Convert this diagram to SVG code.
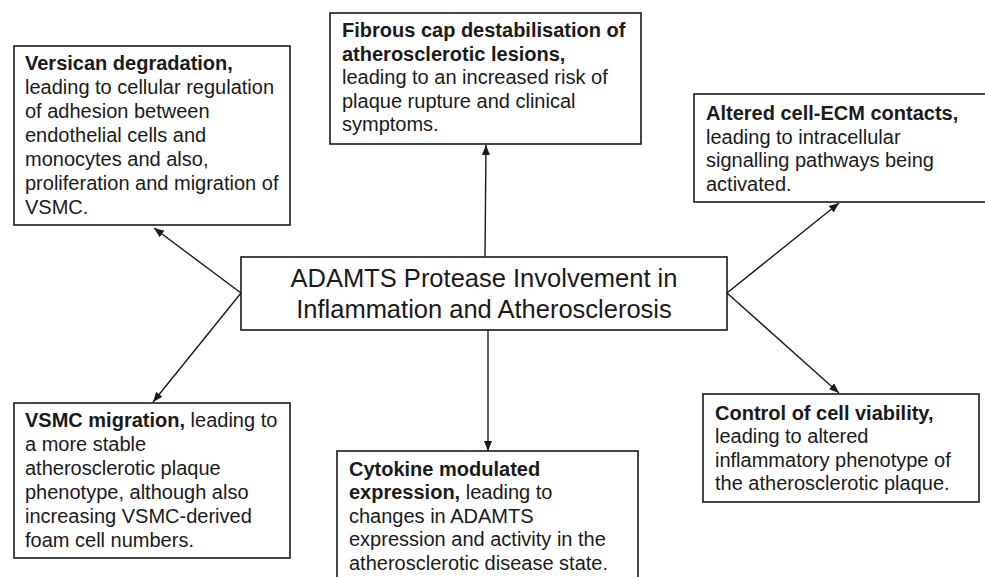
<svg xmlns="http://www.w3.org/2000/svg" width="985" height="577" viewBox="0 0 985 577">
<defs>
<style>
.box{fill:#fff;stroke:#1a1a1a;stroke-width:1.6}
.t{font-family:"Liberation Sans",Arial,sans-serif;font-size:20px;fill:#1a1a1a}
.b{font-weight:bold}
.c{font-family:"Liberation Sans",Arial,sans-serif;font-size:25.5px;fill:#1a1a1a;text-anchor:middle}
.ln{stroke:#1a1a1a;stroke-width:1.4;fill:none;marker-end:url(#ah)}
</style>
<marker id="ah" markerUnits="userSpaceOnUse" markerWidth="11" markerHeight="9" refX="10" refY="4" orient="auto">
<path d="M0,0 L10,4 L0,8 z" fill="#1a1a1a"/>
</marker>
</defs>
<rect width="985" height="577" fill="#fff"/>
<g id="connectors">
<line class="ln" x1="241" y1="293" x2="154" y2="228"/>
<line class="ln" x1="241" y1="293" x2="153" y2="402"/>
<line class="ln" x1="485" y1="257" x2="486" y2="145"/>
<line class="ln" x1="488" y1="330" x2="488" y2="451"/>
<line class="ln" x1="727" y1="293" x2="839" y2="203"/>
<line class="ln" x1="727" y1="293" x2="839" y2="393"/>
</g>
<g id="center">
<rect class="box" x="241" y="257" width="486" height="73"/>
<text class="c" x="484" y="287">ADAMTS Protease Involvement in</text>
<text class="c" x="484" y="318">Inflammation and Atherosclerosis</text>
</g>
<g id="versican">
<rect class="box" x="14" y="46" width="276" height="179"/>
<text class="t" x="25" y="70"><tspan class="b">Versican degradation,</tspan><tspan x="25" dy="24">leading to cellular regulation</tspan><tspan x="25" dy="24">of adhesion between</tspan><tspan x="25" dy="24">endothelial cells and</tspan><tspan x="25" dy="24">monocytes and also,</tspan><tspan x="25" dy="24">proliferation and migration of</tspan><tspan x="25" dy="24">VSMC.</tspan></text>
</g>
<g id="fibrous">
<rect class="box" x="330" y="13" width="311" height="131"/>
<text class="t" x="342" y="37"><tspan class="b">Fibrous cap destabilisation of</tspan><tspan class="b" x="342" dy="23.5">atherosclerotic lesions,</tspan><tspan x="342" dy="23.5">leading to an increased risk of</tspan><tspan x="342" dy="23.5">plaque rupture and clinical</tspan><tspan x="342" dy="23.5">symptoms.</tspan></text>
</g>
<g id="altered">
<rect class="box" x="694" y="94" width="300" height="108"/>
<text class="t" x="706" y="120"><tspan class="b">Altered cell-ECM contacts,</tspan><tspan x="706" dy="23.5">leading to intracellular</tspan><tspan x="706" dy="23.5">signalling pathways being</tspan><tspan x="706" dy="23.5">activated.</tspan></text>
</g>
<g id="vsmc">
<rect class="box" x="14" y="403" width="276" height="155"/>
<text class="t" x="25" y="427"><tspan class="b">VSMC migration,</tspan><tspan> leading to</tspan><tspan x="25" dy="24">a more stable</tspan><tspan x="25" dy="24">atherosclerotic plaque</tspan><tspan x="25" dy="24">phenotype, although also</tspan><tspan x="25" dy="24">increasing VSMC-derived</tspan><tspan x="25" dy="24">foam cell numbers.</tspan></text>
</g>
<g id="cytokine">
<rect class="box" x="337" y="451" width="301" height="140"/>
<text class="t" x="349" y="476"><tspan class="b">Cytokine modulated</tspan><tspan class="b" x="349" dy="23.4">expression,</tspan><tspan> leading to</tspan><tspan x="349" dy="23.4">changes in ADAMTS</tspan><tspan x="349" dy="23.4">expression and activity in the</tspan><tspan x="349" dy="23.4">atherosclerotic disease state.</tspan></text>
</g>
<g id="control">
<rect class="box" x="703" y="394" width="276" height="108"/>
<text class="t" x="715" y="420"><tspan class="b">Control of cell viability,</tspan><tspan x="715" dy="23.4">leading to altered</tspan><tspan x="715" dy="23.4">inflammatory phenotype of</tspan><tspan x="715" dy="23.4">the atherosclerotic plaque.</tspan></text>
</g>
</svg>
